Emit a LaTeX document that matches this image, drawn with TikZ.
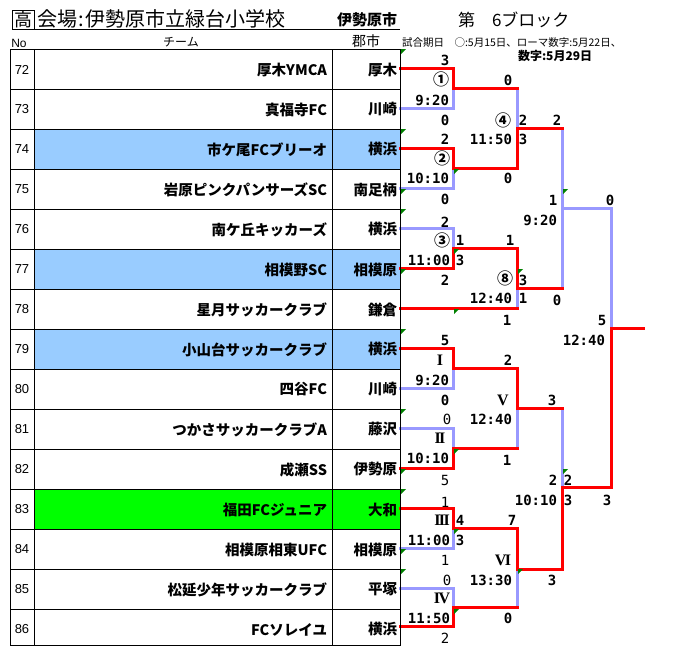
\documentclass[tikz,border=0pt]{standalone}
\usepackage{fontspec}
\setmainfont{Noto Sans CJK JP}
\newfontfamily\jp{Noto Sans CJK JP}
\newfontfamily\mono{DejaVu Sans Mono}
\newfontfamily\lsans{Liberation Sans}
\newfontfamily\lserif{Liberation Serif}
\definecolor{lblue}{RGB}{153,153,255}
\definecolor{fillblue}{RGB}{153,204,255}
\definecolor{fillgreen}{RGB}{0,255,0}
\definecolor{flaggreen}{RGB}{0,128,0}
\newcommand{\rk}{\kern-1.6pt}
\tikzset{
  tx/.style={inner sep=0pt, outer sep=0pt},
  team/.style={tx, anchor=east, font=\jp\bfseries\fontsize{14.5}{14.5}\selectfont},
  nolab/.style={tx, font=\lsans\fontsize{13}{13}\selectfont},
  sc/.style={tx, font=\mono\bfseries\fontsize{14}{14}\selectfont},
  scl/.style={tx, font=\mono\fontsize{14}{14}\selectfont},
  tm/.style={tx, anchor=east, font=\mono\bfseries\fontsize{14}{14}\selectfont},
  mn/.style={tx, font=\jp\bfseries\fontsize{16}{16}\selectfont},
  rn/.style={tx, font=\lserif\bfseries\fontsize{16}{16}\selectfont},
  win/.style={draw=red, line width=3pt, line cap=rect, line join=miter},
  lose/.style={draw=lblue, line width=3pt, line cap=rect, line join=miter},
  gridline/.style={line width=1pt},
  flag/.style={fill=flaggreen},
}
\begin{document}
\begin{tikzpicture}[x=1pt, y=-1pt]
\useasboundingbox (0,0) rectangle (683,664);
% ---------- header ----------
\draw[gridline] (12.5,10) rectangle (34.3,29);
\draw[gridline] (34.3,29) -- (400,29);
\node[tx, font=\jp\fontsize{18}{18}\selectfont] (kou) at (23.4,19.5) {高};
\node[tx, anchor=west, font=\jp\fontsize{20}{20}\selectfont] (title) at (37,19) {会場\hspace{1pt}:\hspace{1.5pt}伊勢原市立緑台小学校};
\node[tx, anchor=west, font=\jp\bfseries\fontsize{15}{15}\selectfont] (hcity) at (337,20) {伊勢原市};
\node[tx, anchor=west, font=\jp\fontsize{17}{17}\selectfont] (block) at (458,19.5) {第\hspace{1em}6ブロック};
\node[tx, font=\lsans\fontsize{12}{12}\selectfont] (hno) at (19,43) {No};
\node[tx, font=\jp\fontsize{12}{12}\selectfont] (hteam) at (181,42) {チーム};
\node[tx, font=\jp\fontsize{14}{14}\selectfont] (hcity2) at (366,41) {郡市};
\node[tx, anchor=west, font=\jp\fontsize{10.5}{10.5}\selectfont] (dates) at (402,43) {試合期日\hspace{1em}○:5月15日、ローマ数字:5月22日、};
\node[tx, anchor=west, font=\jp\bfseries\fontsize{12}{12}\selectfont] (dates2) at (518,56) {数字:5月29日};
% ---------- row fills ----------
\fill[fillblue] (34,129) rectangle (400,169);
\fill[fillblue] (34,249) rectangle (400,289);
\fill[fillblue] (34,329) rectangle (400,369);
\fill[fillgreen] (34,489) rectangle (400,529);
% ---------- bracket coordinates ----------
\foreach \n/\yy in {72/68,73/108,74/148,75/188,76/228,77/268,78/308,79/348,80/388,81/428,82/468,83/508,84/548,85/588,86/626}
  \coordinate (e\n) at (400,\yy);
\coordinate (m1) at (453,88);
\coordinate (m2) at (453,168);
\coordinate (m3) at (453,248);
\coordinate (mI) at (453,368);
\coordinate (mII) at (453,448);
\coordinate (mIII) at (453,528);
\coordinate (mIV) at (453,607);
\coordinate (m4) at (517,128);
\coordinate (m8) at (517,288);
\coordinate (mV) at (517,408);
\coordinate (mVI) at (517,569);
\coordinate (s1) at (562,208);
\coordinate (s2) at (562,487);
\coordinate (fin) at (611,328);
\coordinate (champ) at (643,328);
% losing (blue) lines
\draw[lose] (e73) -| (m1);
\draw[lose] (m1-|m4) -- (m4);
\draw[lose] (e75) -| (m2);
\draw[lose] (e76) -| (m3);
\draw[lose] (e78-|m8) -- (m8);
\draw[lose] (m4-|s1) -- (m8-|s1);
\draw[lose] (s1) -- (s1-|fin) -- (fin);
\draw[lose] (e80) -| (mI);
\draw[lose] (e81) -| (mII);
\draw[lose] (mII-|mV) -- (mV);
\draw[lose] (mV-|s2) -- (s2);
\draw[lose] (e84) -| (mIII);
\draw[lose] (e85) -| (mIV);
\draw[lose] (mIV-|mVI) -- (mVI);
% winning (red) lines
\draw[win] (e72) -| (m1) -- (m1-|m4);
\draw[win] (e74) -| (m2) -- (m2-|m4) -- (m4) -- (m4-|s1);
\draw[win] (e77) -| (m3) -- (m3-|m8) -- (m8) -- (m8-|s1);
\draw[win] (e78) -- (e78-|m8);
\draw[win] (champ) -- (fin) -- (s2-|fin) -- (s2) -- (mVI-|s2) -- (mVI);
\draw[win] (e79) -| (mI) -- (mI-|mV) -- (mV) -- (mV-|s2);
\draw[win] (e82) -| (mII) -- (mII-|mV);
\draw[win] (e83) -| (mIII) -- (mIII-|mVI) -- (mVI);
\draw[win] (e86) -| (mIV) -- (mIV-|mVI);
% ---------- table ----------
\foreach \n/\team/\city [count=\k from 0] in {72/厚木YMCA/厚木, 73/真福寺FC/川崎, 74/市ケ尾FCブリーオ/横浜, 75/岩原ピンクパンサーズSC/南足柄, 76/南ケ丘キッカーズ/横浜, 77/相模野SC/相模原, 78/星月サッカークラブ/鎌倉, 79/小山台サッカークラブ/横浜, 80/四谷FC/川崎, 81/つかさサッカークラブA/藤沢, 82/成瀬SS/伊勢原, 83/福田FCジュニア/大和, 84/相模原相東UFC/相模原, 85/松延少年サッカークラブ/平塚, 86/FCソレイユ/横浜} {
  \node[nolab] (no\n) at (22,{69.5+40*\k}) {\n};
  \node[team] (t\n) at (327,{69.5+40*\k}) {\team};
  \node[team] (c\n) at (397,{69.5+40*\k}) {\city};
}
\draw[gridline] (10,49) rectangle (400,645);
\draw[gridline] (34,49) -- (34,645);
\draw[gridline] (332,49) -- (332,645);
\foreach \k in {1,...,14} \draw[gridline] (10,{49+40*\k}) -- (400,{49+40*\k});
% ---------- error flags ----------
\foreach \fx/\fy [count=\i] in {401/49,401/129,454/169,401/189,401/209,454/249,401/269,518/269,454/309,563/189,401/329,401/409,454/449,401/469,563/469,401/489,454/529,401/549,401/569,518/569,454/609}
  \fill[flag] (\fx,\fy) -- ++(5,0) -- ++(-5,5) -- cycle;
% ---------- scores ----------
\foreach \sx/\sy/\st [count=\i] in {445/60/3, 445/120/0, 508/80/0, 523/120/2, 557/120/2, 523/139/3, 445/139/2, 508/178/0, 445/199/0, 553/200/1, 610/200/0, 445/222/2, 460/240/1, 510/240/1, 460/260/3, 445/280/2, 523/280/3, 523/298/1, 557/300/0, 507/320/1, 602/320/5, 445/340/5, 508/360/2, 445/400/0, 552/400/3, 507/460/1, 553/480/2, 568/480/2, 568/500/3, 607/500/3, 460/520/4, 512/520/7, 460/540/3, 552/580/3, 508/618/0}
  \node[sc] (sb\i) at (\sx,\sy) {\st};
\foreach \sx/\sy/\st [count=\i] in {447/419/0, 445/480/5, 445/502/1, 445/560/1, 447/580/0, 445/638/2}
  \node[scl] (sl\i) at (\sx,\sy) {\st};
% ---------- times ----------
\foreach \sx/\sy/\st [count=\i] in {449/100/9:20, 512/139/11:50, 449/178/10:10, 557/220/9:20, 450/260/11:00, 512/298/12:40, 605/340/12:40, 449/380/9:20, 512/419/12:40, 449/458/10:10, 557/500/10:10, 450/540/11:00, 512/580/13:30, 450/618/11:50}
  \node[tm] (tm\i) at (\sx,\sy) {\st};
% ---------- match marks ----------
\node[mn] (k1) at (441,79) {①};
\node[mn] (k4) at (503,120) {④};
\node[mn] (k2) at (442,158) {②};
\node[mn] (k3) at (442,240) {③};
\node[mn] (k8) at (505,278) {⑧};
\node[rn] (rI) at (440,360) {I};
\node[rn] (rV) at (503,400) {V};
\node[rn] (rII) at (440,438) {I\rk I};
\node[rn] (rIII) at (442,520) {I\rk I\rk I};
\node[rn] (rVI) at (503,560) {V\rk I};
\node[rn] (rIV) at (442,598) {I\rk V};
\end{tikzpicture}
\end{document}
